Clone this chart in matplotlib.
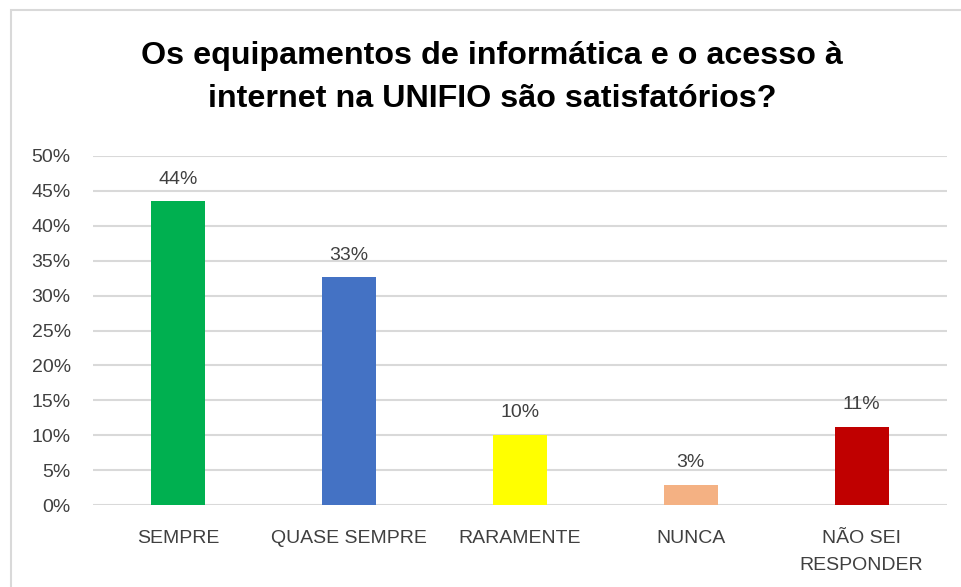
import matplotlib.pyplot as plt
from matplotlib.patches import Rectangle
from matplotlib.ticker import PercentFormatter
import numpy as np

categories = ["SEMPRE", "QUASE SEMPRE", "RARAMENTE", "NUNCA", "NÃO SEI\nRESPONDER"]
values = [0.435, 0.326, 0.101, 0.029, 0.112]
labels = ["44%", "33%", "10%", "3%", "11%"]
colors = ["#00B050", "#4472C4", "#FFFF00", "#F4B183", "#C00000"]

plt.rcParams['font.family'] = ['Liberation Sans', 'DejaVu Sans']

fig = plt.figure(figsize=(9.62, 5.87), dpi=100)
ax = fig.add_axes([93 / 962, 1 - 505 / 587, 854 / 962, 349 / 587])

# light gray chart border
fig.patches.append(Rectangle((11 / 962, -0.1), 1.1, (587 - 10) / 587 + 0.1,
                             transform=fig.transFigure, fill=False,
                             edgecolor="#D9D9D9", linewidth=1.5))

x = np.arange(len(categories))
ax.bar(x, values, width=0.316, color=colors, zorder=3)
for xi, v, lab in zip(x, values, labels):
    ax.annotate(lab, (xi, v), xytext=(0, 16), textcoords="offset points",
                ha="center", va="center", fontsize=14, color="#404040")

ax.set_xlim(-0.5, len(categories) - 0.5)
ax.set_ylim(0, 0.5)
ax.set_yticks(np.arange(0, 0.51, 0.05))
ax.yaxis.set_major_formatter(PercentFormatter(1.0, decimals=0))
ax.set_xticks(x)
ax.set_xticklabels(categories, fontsize=14, color="#404040", linespacing=1.8)
ax.tick_params(axis="y", labelsize=14, labelcolor="#404040", length=0, pad=16)
ax.tick_params(axis="x", length=0, pad=18)
ax.grid(axis="y", color="#D9D9D9", linewidth=1.5, zorder=0)
for s in ax.spines.values():
    s.set_visible(False)

fig.text(492 / 962, 1 - 77.5 / 587, "Os equipamentos de informática e o acesso à\ninternet na UNIFIO são satisfatórios?",
         ha="center", va="center", fontsize=23.2, fontweight="bold", color="black",
         linespacing=1.57)

fig.savefig("out.png", dpi=100)
